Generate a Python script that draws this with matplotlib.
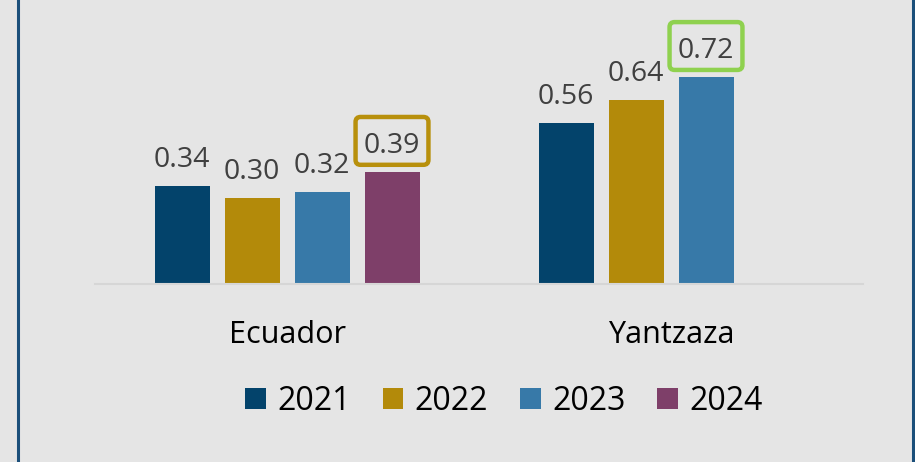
"""Grouped bar chart: yearly index for Ecuador and Yantzaza."""

import matplotlib.pyplot as plt
from matplotlib.patches import FancyBboxPatch, Patch
from matplotlib.transforms import IdentityTransform

plt.rcParams["font.family"] = ["Open Sans", "DejaVu Sans"]

places = ["Ecuador", "Yantzaza"]
years = ["2021", "2022", "2023", "2024"]
ecuador = [0.34, 0.30, 0.32, 0.39]
yantzaza = [0.56, 0.64, 0.72, None]  # no 2024 value yet

COLORS = ["#03436B", "#B38A0A", "#3779A8", "#7E3F69"]
BG = "#E5E5E5"
BORDER = "#1B4F7A"
# highlighted (latest) values get a coloured frame
HIGHLIGHT = {(0, 3): "#B8900C", (1, 2): "#8FD14F"}

W, H, DPI = 915, 462, 100
LABEL_FS = 20.5
LABEL_GAP = 13.7  # pt between bar top and label baseline

fig = plt.figure(figsize=(W / DPI, H / DPI), dpi=DPI, facecolor=BG)
ax = fig.add_axes([95 / W, (H - 284) / H, 768 / W, 230 / H])
ax.set_facecolor(BG)
ax.set_xlim(-0.5, 1.5)
ax.set_ylim(0, 0.8)
for s in ["top", "right", "left"]:
    ax.spines[s].set_visible(False)
ax.spines["bottom"].set_color("#D6D6D6")
ax.spines["bottom"].set_linewidth(1.5)
ax.set_xticks([])
ax.set_yticks([])

width = 55 / 384
step = 70 / 384
offsets = [(i - 1.5) * step for i in range(len(years))]

em = LABEL_FS * DPI / 72  # label font size in pixels

series = [ecuador, yantzaza]
for g, vals in enumerate(series):
    for i, v in enumerate(vals):
        if v is None:
            continue
        x = g + offsets[i]
        ax.bar(x, v, width=width, color=COLORS[i], edgecolor="none", zorder=2)
        ax.annotate(f"{v:.2f}", xy=(x, v), xytext=(0, LABEL_GAP),
                    textcoords="offset points", ha="center", va="baseline",
                    fontsize=LABEL_FS, color="#404040",
                    annotation_clip=False)
        if (g, i) in HIGHLIGHT:
            # rounded frame around the label, sized from the font
            cx, top = ax.transData.transform((x, v))
            base = top + LABEL_GAP * DPI / 72
            bw = 2.56 * em
            frame = FancyBboxPatch((cx - bw / 2, base - 0.42 * em),
                                   bw, 1.68 * em,
                                   boxstyle="round,pad=0,rounding_size=5",
                                   fc="none", ec=HIGHLIGHT[(g, i)], lw=3.2,
                                   transform=IdentityTransform())
            fig.add_artist(frame)

for g, name in enumerate(places):
    ax.annotate(name, xy=(g, 0), xycoords=("data", "axes fraction"),
                xytext=(0, -42.5), textcoords="offset points",
                ha="center", va="baseline", fontsize=22, color="black",
                annotation_clip=False)

handles = [Patch(facecolor=c, edgecolor="none") for c in COLORS]
fig.legend(handles, years, loc="center", bbox_to_anchor=(504 / W, 0.132),
           ncol=4, frameon=False, fontsize=23, handlelength=0.65,
           handleheight=0.65, handletextpad=0.35, columnspacing=1.0,
           labelcolor="black")

# frame lines down both sides
for xpx in (18, 913):
    fig.add_artist(plt.Line2D([xpx / W, xpx / W], [0, 1], color=BORDER,
                              lw=2.2, transform=fig.transFigure))

fig.savefig("out.png", dpi=DPI, facecolor=BG)
